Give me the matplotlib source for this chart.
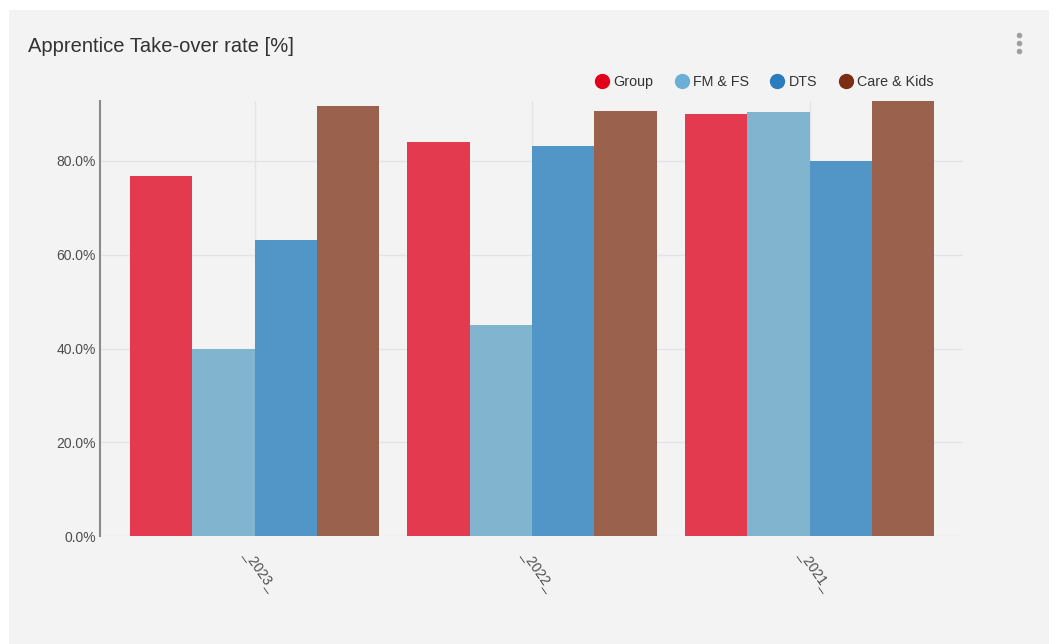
import matplotlib
matplotlib.use("Agg")
import matplotlib.pyplot as plt
import matplotlib.transforms as mtransforms
from matplotlib.lines import Line2D
from matplotlib.patches import Rectangle
import numpy as np

plt.rcParams['font.family'] = ['Liberation Sans', 'DejaVu Sans']

# Data
years = ["_2023_", "_2022_", "_2021_"]
series = ["Group", "FM & FS", "DTS", "Care & Kids"]
group_vals = [76.8, 84.1, 90.0]
fmfs_vals = [40.0, 45.0, 90.4]
dts_vals = [63.2, 83.2, 80.0]
care_vals = [91.7, 90.7, 92.8]
yticks = [0, 20, 40, 60, 80]

bar_colors = ["#e43a4f", "#80b4cf", "#5196c6", "#9a624c"]
legend_colors = ["#e2001a", "#6baed6", "#2a7cbd", "#7c2e14"]

W, H = 1056, 644
fig = plt.figure(figsize=(W / 100, H / 100), dpi=100)
fig.patch.set_facecolor("white")

# card background
fig.add_artist(Rectangle((9 / W, 0), (1049 - 9) / W, (644 - 10) / H,
                         transform=fig.transFigure, facecolor="#f4f3f4",
                         edgecolor="none", zorder=0))

ax = fig.add_axes([100 / W, (H - 536) / H, (963 - 100) / W, (536 - 101) / H])
ax.set_facecolor("none")

values = [group_vals, fmfs_vals, dts_vals, care_vals]
x = np.arange(len(years))
n = len(series)
group_w = 0.9
bw = group_w / n
for i, (vals, c) in enumerate(zip(values, bar_colors)):
    ax.bar(x - group_w / 2 + bw * (i + 0.5), vals, width=bw, color=c,
           edgecolor="none", zorder=3)

ax.set_xlim(-0.557, 2.553)
ax.set_ylim(0, max(max(v) for v in values))

ax.set_yticks(yticks)
ax.set_yticklabels([f"{v:.1f}%" for v in yticks])
ax.set_xticks(x)
ax.set_xticklabels(years, rotation=-55, ha="center", va="top")

ax.tick_params(axis="both", length=0, labelsize=10, labelcolor="#4d4d4d")
ax.tick_params(axis="x", pad=8)
ax.tick_params(axis="y", pad=3)

# nudge the slanted category labels a little to the right
shift = mtransforms.ScaledTranslation(6 / 100, 0, fig.dpi_scale_trans)
for lbl in ax.get_xticklabels():
    lbl.set_transform(lbl.get_transform() + shift)

ax.grid(True, color="#e4e3e6", linewidth=1, zorder=0)
for s in ["top", "right", "bottom"]:
    ax.spines[s].set_visible(False)
ax.spines["left"].set_color("#8a8a8a")
ax.spines["left"].set_linewidth(1.5)

# title
fig.text(28 / W, 1 - 46 / H, "Apprentice Take-over rate [%]", fontsize=14.5,
         color="#333333", va="center", ha="left")

# legend
handles = [Line2D([0], [0], marker="o", linestyle="none", markersize=10,
                  markerfacecolor=c, markeredgecolor=c) for c in legend_colors]
fig.legend(handles, series, loc="center right",
           bbox_to_anchor=(939 / W, 1 - 82 / H), ncol=4, frameon=False,
           fontsize=10.3, handlelength=1.0, handletextpad=0.28,
           columnspacing=1.5, labelcolor="#333333", borderaxespad=0)

# menu dots
for yy in (34.5, 42.5, 50.5):
    fig.add_artist(Line2D([1019 / W], [1 - yy / H], marker="o", markersize=3,
                          color="#a0a0a0", linestyle="none",
                          transform=fig.transFigure))

fig.savefig("out.png", dpi=100, facecolor=fig.get_facecolor())
